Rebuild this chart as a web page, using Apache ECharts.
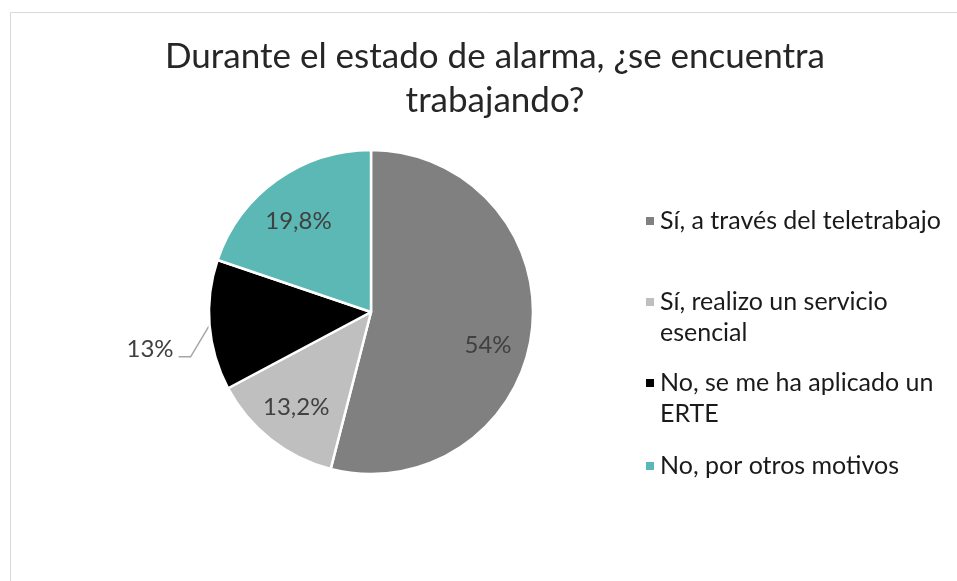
<!DOCTYPE html>
<html>
<head>
<meta charset="utf-8">
<script src="https://cdn.jsdelivr.net/npm/echarts@6/dist/echarts.min.js"></script>
<style>
  html, body { margin: 0; padding: 0; background: #fff; }
  #chart { width: 957px; height: 581px; }
</style>
</head>
<body>
<div id="chart"></div>
<script>
// datos de la encuesta
var categories = [
  'Sí, a través del teletrabajo',
  'Sí, realizo un servicio esencial',
  'No, se me ha aplicado un ERTE',
  'No, por otros motivos'
];
var values = [54, 13.2, 13, 19.8];
var labelsText = ['54%', '13,2%', '13%', '19,8%'];
var legendText = [
  'Sí, a través del teletrabajo',
  'Sí, realizo un servicio\nesencial',
  'No, se me ha aplicado un\nERTE',
  'No, por otros motivos'
];
var colors = ['#808080', '#bfbfbf', '#000000', '#5bb8b4'];

var FONT = 'Lato, "Open Sans", sans-serif';
var LEGEND_LH = 31;

function buildData()
{
  var data = [];
  for (var i = 0; i < categories.length; i++) {
    var outside = (i === 2);
    data.push({
      name: categories[i],
      value: values[i],
      itemStyle: { color: colors[i] },
      label: { show: outside },
      labelLine: { show: outside }
    });
  }
  return data;
}

// una leyenda por elemento; el icono queda alineado con la primera linea
var legendIconY = [221, 302, 383, 466];
var legends = [];
for (var k = 0; k < categories.length; k++) {
  var twoLines = legendText[k].indexOf('\n') >= 0;
  legends.push({
    data: [categories[k]],
    left: 644,
    top: legendIconY[k] - (twoLines ? 1.5 * LEGEND_LH : 0.5 * LEGEND_LH),
    padding: 0,
    orient: 'vertical',
    icon: 'rect',
    itemWidth: 10,
    itemHeight: 10,
    itemGap: 0,
    selectedMode: false,
    formatter: (function (idx, two) {
      return function () { return (two ? '\n' : '') + legendText[idx]; };
    })(k, twoLines),
    textStyle: {
      fontFamily: FONT,
      fontSize: 25,
      color: '#1a1a1a',
      lineHeight: LEGEND_LH
    }
  });
}

// desplazamiento de las etiquetas internas (colocacion "mejor ajuste" de Excel)
var innerLabelOffset = [[-3, 18], [0, 0], [0, 0], [-2, 8]];

var chart = echarts.init(document.getElementById('chart'));
chart.setOption({
  backgroundColor: '#fff',
  animation: false,
  title: {
    text: 'Durante el estado de alarma, ¿se encuentra\ntrabajando?',
    left: 490,
    top: 30,
    textAlign: 'center',
    textStyle: {
      fontFamily: FONT,
      fontSize: 35,
      fontWeight: 'normal',
      color: '#262626',
      lineHeight: 44
    }
  },
  legend: legends,
  graphic: [{
    type: 'rect',
    shape: { x: 10.5, y: 12.5, width: 980, height: 600 },
    style: { fill: 'none', stroke: '#d9d9d9', lineWidth: 1 },
    silent: true
  }],
  series: [
    {
      type: 'pie',
      center: [371, 312],
      radius: [0, 162],
      startAngle: 90,
      clockwise: true,
      avoidLabelOverlap: false,
      itemStyle: { borderColor: '#fff', borderWidth: 2.5 },
      label: {
        position: 'outside',
        fontFamily: FONT,
        fontSize: 24,
        color: '#404040',
        distanceToLabelLine: 4,
        formatter: function (p) { return labelsText[p.dataIndex]; }
      },
      labelLine: {
        length: 20,
        length2: 12,
        lineStyle: { color: '#a6a6a6', width: 1.5 }
      },
      // etiqueta exterior bajada y linea guia en diagonal como en Excel
      labelLayout: function (params) {
        var pts = params.labelLinePoints;
        var r = params.labelRect;
        if (!pts || !r) {
          return {};
        }
        var dy = 22;
        var endX = r.x + r.width + 5;
        var endY = r.y + r.height / 2 + dy + 8;
        return {
          dy: dy,
          labelLinePoints: [pts[0], [endX + 12, endY], [endX, endY]]
        };
      },
      emphasis: { disabled: true },
      data: buildData()
    },
    {
      // serie transparente solo para las etiquetas internas
      type: 'pie',
      center: [371, 312],
      radius: [74, 162],
      startAngle: 90,
      clockwise: true,
      silent: true,
      itemStyle: { color: 'transparent', borderWidth: 0 },
      label: {
        position: 'inside',
        fontFamily: FONT,
        fontSize: 24,
        color: '#404040',
        formatter: function (p) { return labelsText[p.dataIndex]; }
      },
      labelLine: { show: false },
      emphasis: { disabled: true },
      data: values.map(function (v, i) {
        return {
          name: categories[i],
          value: v,
          itemStyle: { color: 'transparent' },
          label: { show: i !== 2, offset: innerLabelOffset[i] }
        };
      })
    }
  ]
});
</script>
</body>
</html>
